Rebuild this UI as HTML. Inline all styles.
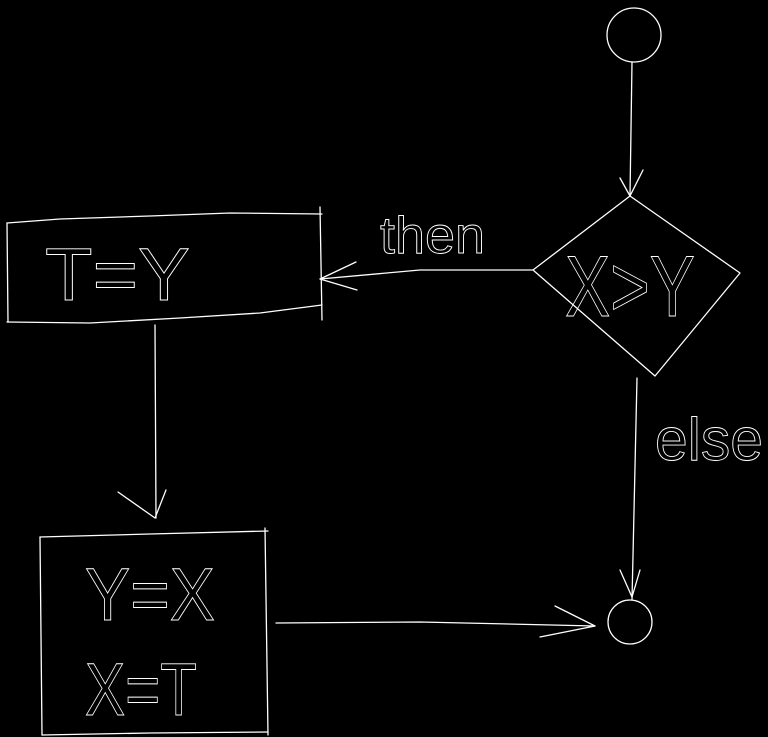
<!DOCTYPE html>
<html><head><meta charset="utf-8"><style>
html,body{margin:0;padding:0;background:#000;}
svg{display:block;}
text{fill:none;stroke:#fff;stroke-width:0.9;font-family:"Liberation Sans",sans-serif;}
</style></head><body>
<svg width="768" height="737" viewBox="0 0 768 737" xmlns="http://www.w3.org/2000/svg">
<g fill="none" stroke="#fff" stroke-width="1.3" stroke-linecap="round" stroke-linejoin="round">
<circle cx="634" cy="35" r="27"/>
<path d="M632 62 L630 196"/>
<path d="M620 178 L630 196 L643 170"/>
<path d="M630 196 L740 273 L655 376 L533 270 Z"/>
<path d="M533 270 L420 270 L320 279"/>
<path d="M357 290 L320 279 L356 262"/>
<path d="M7 223 L60 219 L150 216 L230 213 L322 214"/>
<path d="M320 207 L322 320"/>
<path d="M7 322 L90 323 L180 318 L260 313 L322 305"/>
<path d="M7 223 L8 322"/>
<path d="M155 325 L156 518"/>
<path d="M118 492 L155 518 L166 490"/>
<path d="M40 537 L150 534 L268 531"/>
<path d="M40 537 L42 735"/>
<path d="M42 735 L150 733 L268 732"/>
<path d="M265 528 L268 735"/>
<path d="M276 623 L420 622 L595 626"/>
<path d="M540 637 L595 626 L555 606"/>
<circle cx="630" cy="622" r="22"/>
<path d="M637 378 L632 600"/>
<path d="M620 570 L632 597 L640 570"/>
</g>
<text x="380" y="253" font-size="52" textLength="105" lengthAdjust="spacingAndGlyphs">then</text>
<text x="655" y="460" font-size="60" textLength="108" lengthAdjust="spacingAndGlyphs">else</text>
<text x="45" y="300" font-size="74" textLength="145" lengthAdjust="spacingAndGlyphs">T=Y</text>
<text x="565" y="316" font-size="86" textLength="130" lengthAdjust="spacingAndGlyphs">X&gt;Y</text>
<text x="85" y="620" font-size="74" textLength="130" lengthAdjust="spacingAndGlyphs">Y=X</text>
<text x="85" y="715" font-size="74" textLength="112" lengthAdjust="spacingAndGlyphs">X=T</text>
</svg>
</body></html>
